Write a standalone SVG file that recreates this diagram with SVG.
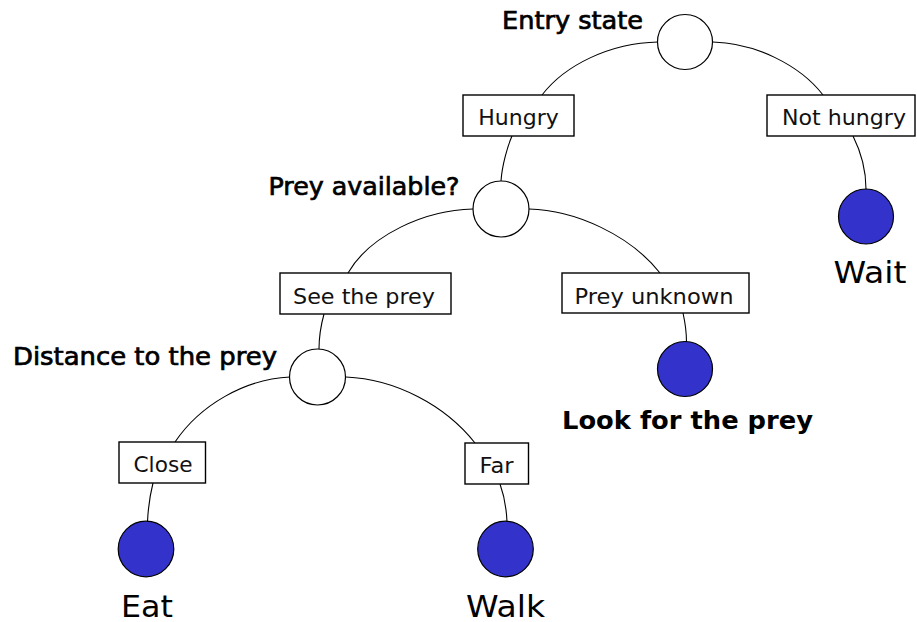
<svg xmlns="http://www.w3.org/2000/svg" width="917" height="622" viewBox="0 0 917 622">
<style>
  .bg { fill: #ffffff; }
  .edge { fill: none; stroke: #000; stroke-width: 1.1; }
  .box { fill: #fff; stroke: #000; stroke-width: 1.4; }
  .state { fill: #fff; stroke: #000; stroke-width: 1.2; }
  .leaf { fill: #3333cc; stroke: #000; stroke-width: 1.2; }
  .lbl { font-family: "DejaVu Sans", Verdana, sans-serif; font-size: 22px; fill: #111; }
  .q { font-family: "DejaVu Sans", Verdana, sans-serif; font-size: 24px; fill: #000; stroke: #000; stroke-width: 0.7; }
  .act { font-family: "DejaVu Sans", Verdana, sans-serif; font-size: 31px; fill: #000; }
  .actb { font-family: "DejaVu Sans", Verdana, sans-serif; font-size: 24px; font-weight: bold; fill: #000; }
</style>
<rect class="bg" x="0" y="0" width="917" height="622"/>
<g id="connectors">
  <path class="edge" d="M 658 42 C 610 43, 565 65, 542 95"/>
  <path class="edge" d="M 713 42 C 755 43, 800 65, 823 95"/>
  <path class="edge" d="M 512 136 C 508 145, 502 165, 501 181"/>
  <path class="edge" d="M 853 136 C 860 150, 866 170, 866 189"/>
  <path class="edge" d="M 473 209 C 425 210, 370 235, 348 273"/>
  <path class="edge" d="M 529 209 C 575 210, 630 235, 660 273"/>
  <path class="edge" d="M 324 314 C 321 325, 319 335, 319 349"/>
  <path class="edge" d="M 683 313 C 685 322, 686.5 332, 686.5 342"/>
  <path class="edge" d="M 290 377 C 245 379, 200 405, 175 442"/>
  <path class="edge" d="M 346 377 C 395 379, 445 405, 475 443"/>
  <path class="edge" d="M 153 483 C 150 495, 148 510, 147.5 522"/>
  <path class="edge" d="M 500 484 C 504 495, 506.5 510, 507 522"/>
</g>
<g id="entry-state">
  <circle class="state" cx="685" cy="42" r="27.5"/>
  <text class="q" x="502" y="28.5" textLength="141" lengthAdjust="spacingAndGlyphs">Entry state</text>
</g>
<g id="hungry">
  <rect class="box" x="463" y="95" width="111" height="41"/>
  <text class="lbl" x="518.5" y="125" text-anchor="middle">Hungry</text>
</g>
<g id="not-hungry">
  <rect class="box" x="767" y="95" width="148" height="41"/>
  <text class="lbl" x="782" y="125" textLength="124" lengthAdjust="spacingAndGlyphs">Not hungry</text>
</g>
<g id="wait">
  <circle class="leaf" cx="866" cy="216.5" r="27.5"/>
  <text class="act" x="833.5" y="282.5" textLength="73" lengthAdjust="spacingAndGlyphs">Wait</text>
</g>
<g id="prey-available">
  <circle class="state" cx="501" cy="209" r="28"/>
  <text class="q" x="268.5" y="195" textLength="191" lengthAdjust="spacingAndGlyphs">Prey available?</text>
</g>
<g id="see-the-prey">
  <rect class="box" x="280" y="273" width="171" height="41"/>
  <text class="lbl" x="293" y="304" textLength="142" lengthAdjust="spacingAndGlyphs">See the prey</text>
</g>
<g id="prey-unknown">
  <rect class="box" x="562" y="273" width="187" height="40"/>
  <text class="lbl" x="574.5" y="303.5" textLength="159" lengthAdjust="spacingAndGlyphs">Prey unknown</text>
</g>
<g id="look-for-the-prey">
  <circle class="leaf" cx="685" cy="369" r="27.5"/>
  <text class="actb" x="562" y="429" textLength="251" lengthAdjust="spacingAndGlyphs">Look for the prey</text>
</g>
<g id="distance">
  <circle class="state" cx="317.5" cy="377" r="28"/>
  <text class="q" x="13" y="365" textLength="264" lengthAdjust="spacingAndGlyphs">Distance to the prey</text>
</g>
<g id="close">
  <rect class="box" x="119" y="442" width="86.5" height="41"/>
  <text class="lbl" x="133.5" y="472" textLength="59" lengthAdjust="spacingAndGlyphs">Close</text>
</g>
<g id="far">
  <rect class="box" x="465" y="443" width="63.5" height="41"/>
  <text class="lbl" x="479.5" y="473" textLength="34" lengthAdjust="spacingAndGlyphs">Far</text>
</g>
<g id="eat">
  <circle class="leaf" cx="146" cy="549" r="27.8"/>
  <text class="act" x="121" y="616.5" textLength="52" lengthAdjust="spacingAndGlyphs">Eat</text>
</g>
<g id="walk">
  <circle class="leaf" cx="505.5" cy="549" r="27.8"/>
  <text class="act" x="466" y="616.5" textLength="79" lengthAdjust="spacingAndGlyphs">Walk</text>
</g>
</svg>
